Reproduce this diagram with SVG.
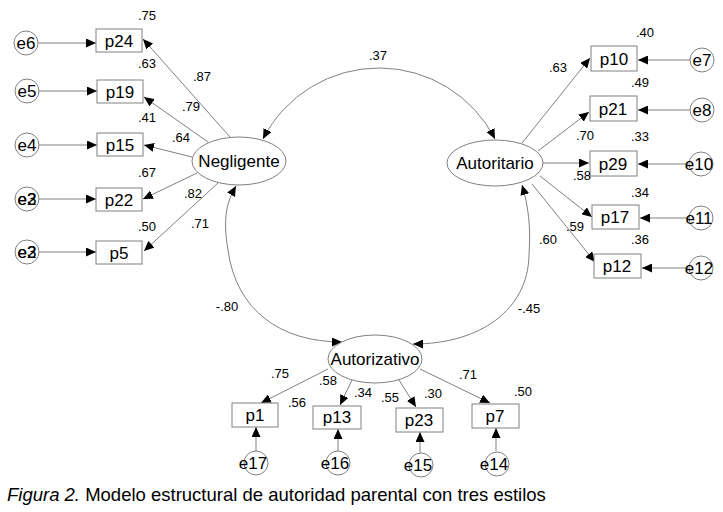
<svg xmlns="http://www.w3.org/2000/svg" width="723" height="512" viewBox="0 0 723 512">
<style>
text{font-family:"Liberation Sans",Arial,sans-serif;fill:#000}
.lab{font-size:17px;text-anchor:middle}
.num{font-size:13px;text-anchor:middle}
.box{fill:#fff;stroke:#808080;stroke-width:1}
.lat{fill:#fff;stroke:#808080;stroke-width:1}
.err{fill:#fff;stroke:#808080;stroke-width:1}
.c path,.c line{fill:none;stroke:#808080;stroke-width:1;marker-end:url(#ah)}
</style>
<defs>
<marker id="ah" markerUnits="userSpaceOnUse" markerWidth="11" markerHeight="9" refX="10" refY="4.5" orient="auto">
<path d="M0,0 L10,4.5 L0,9 z" fill="#000"/>
</marker>
</defs>
<rect width="723" height="512" fill="#fff"/>
<g id="connectors" class="c">
<path d="M380,68 A130,130 0 0 0 263,139"/>
<path d="M380,68 A130,130 0 0 1 495,139"/>
<path d="M228,250 C222,215 228,200 236,186"/>
<path d="M228,250 C236,310 280,342 342,342"/>
<path d="M529,255 C531,225 528,205 522,185"/>
<path d="M529,255 C528,310 480,344 413,344"/>
<line x1="230" y1="137" x2="143" y2="39"/>
<line x1="208" y1="142" x2="144" y2="97"/>
<line x1="192" y1="157" x2="144" y2="145"/>
<line x1="197" y1="173" x2="143" y2="199"/>
<line x1="218" y1="183" x2="144" y2="251"/>
<line x1="38" y1="43" x2="96" y2="43"/>
<line x1="39" y1="91" x2="97" y2="91"/>
<line x1="39" y1="145" x2="97" y2="145"/>
<line x1="39" y1="199" x2="96" y2="199"/>
<line x1="39" y1="252" x2="96" y2="252"/>
<line x1="522" y1="143" x2="590" y2="58"/>
<line x1="538" y1="151" x2="589" y2="112"/>
<line x1="543" y1="163" x2="589" y2="163"/>
<line x1="540" y1="176" x2="592" y2="217"/>
<line x1="532" y1="184" x2="595" y2="262"/>
<line x1="690" y1="60" x2="638" y2="60"/>
<line x1="690" y1="110" x2="638" y2="110"/>
<line x1="688" y1="164" x2="638" y2="164"/>
<line x1="688" y1="218" x2="640" y2="218"/>
<line x1="688" y1="268" x2="642" y2="268"/>
<line x1="328" y1="369" x2="261" y2="403"/>
<line x1="352" y1="380" x2="340" y2="405"/>
<line x1="399" y1="380" x2="416" y2="407"/>
<line x1="420" y1="369" x2="490" y2="403"/>
<line x1="256" y1="451" x2="256" y2="427"/>
<line x1="338" y1="451" x2="338" y2="429"/>
<line x1="420" y1="453" x2="420" y2="432"/>
<line x1="496" y1="451" x2="496" y2="428"/>
</g>
<g id="Negligente"><ellipse class="lat" cx="239" cy="161" rx="47" ry="24"/><text class="lab" x="239" y="167">Negligente</text></g>
<g id="Autoritario"><ellipse class="lat" cx="495" cy="163" rx="48" ry="23"/><text class="lab" x="495" y="169">Autoritario</text></g>
<g id="Autorizativo"><ellipse class="lat" cx="375" cy="359" rx="47" ry="24"/><text class="lab" x="375" y="365">Autorizativo</text></g>
<g id="p24"><rect class="box" x="96" y="29" width="46" height="23"/><text class="lab" x="119" y="47">p24</text></g>
<g id="p19"><rect class="box" x="97" y="80" width="46" height="23"/><text class="lab" x="120" y="98">p19</text></g>
<g id="p15"><rect class="box" x="97" y="133" width="46" height="23"/><text class="lab" x="120" y="151">p15</text></g>
<g id="p22"><rect class="box" x="96" y="188" width="46" height="23"/><text class="lab" x="119" y="206">p22</text></g>
<g id="p5"><rect class="box" x="96" y="241" width="46" height="23"/><text class="lab" x="119" y="259">p5</text></g>
<g id="p10"><rect class="box" x="591" y="46" width="46" height="25"/><text class="lab" x="614" y="65">p10</text></g>
<g id="p21"><rect class="box" x="590" y="96" width="47" height="25"/><text class="lab" x="613" y="115">p21</text></g>
<g id="p29"><rect class="box" x="590" y="151" width="47" height="25"/><text class="lab" x="613" y="170">p29</text></g>
<g id="p17"><rect class="box" x="592" y="205" width="47" height="24"/><text class="lab" x="615" y="223">p17</text></g>
<g id="p12"><rect class="box" x="594" y="254" width="47" height="24"/><text class="lab" x="617" y="272">p12</text></g>
<g id="p1"><rect class="box" x="232" y="403" width="46" height="24"/><text class="lab" x="255" y="421">p1</text></g>
<g id="p13"><rect class="box" x="313" y="406" width="48" height="23"/><text class="lab" x="337" y="423">p13</text></g>
<g id="p23"><rect class="box" x="396" y="408" width="47" height="24"/><text class="lab" x="419" y="426">p23</text></g>
<g id="p7"><rect class="box" x="472" y="404" width="47" height="24"/><text class="lab" x="495" y="422">p7</text></g>
<g id="e6"><circle class="err" cx="26" cy="43" r="12"/><text class="lab" x="26" y="49">e6</text></g>
<g id="e5"><circle class="err" cx="27" cy="91" r="12"/><text class="lab" x="27" y="97">e5</text></g>
<g id="e4"><circle class="err" cx="27" cy="145" r="12"/><text class="lab" x="27" y="151">e4</text></g>
<g id="e3"><circle class="err" cx="27" cy="199" r="12"/><text class="lab" x="27" y="205">e3</text><text class="lab" x="27" y="205">e2</text></g>
<g id="e2"><circle class="err" cx="27" cy="252" r="12"/><text class="lab" x="27" y="258">e3</text><text class="lab" x="27" y="258">e2</text></g>
<g id="e7"><circle class="err" cx="702" cy="60" r="12"/><text class="lab" x="702" y="66">e7</text></g>
<g id="e8"><circle class="err" cx="702" cy="110" r="12"/><text class="lab" x="702" y="116">e8</text></g>
<g id="e10"><circle class="err" cx="701" cy="164" r="12"/><text class="lab" x="699" y="170">e10</text></g>
<g id="e11"><circle class="err" cx="701" cy="218" r="12"/><text class="lab" x="699" y="224">e11</text></g>
<g id="e12"><circle class="err" cx="701" cy="268" r="12"/><text class="lab" x="699" y="274">e12</text></g>
<g id="e17"><circle class="err" cx="256" cy="463" r="12"/><text class="lab" x="253" y="469">e17</text></g>
<g id="e16"><circle class="err" cx="338" cy="463" r="12"/><text class="lab" x="335" y="469">e16</text></g>
<g id="e15"><circle class="err" cx="421" cy="465" r="12"/><text class="lab" x="418" y="471">e15</text></g>
<g id="e14"><circle class="err" cx="497" cy="464" r="12"/><text class="lab" x="494" y="470">e14</text></g>
<g id="labels">
<text class="num" x="378" y="60">.37</text>
<text class="num" x="147" y="20">.75</text>
<text class="num" x="147" y="68">.63</text>
<text class="num" x="202" y="81">.87</text>
<text class="num" x="191" y="111">.79</text>
<text class="num" x="147" y="122">.41</text>
<text class="num" x="181" y="142">.64</text>
<text class="num" x="147" y="177">.67</text>
<text class="num" x="193" y="198">.82</text>
<text class="num" x="147" y="231">.50</text>
<text class="num" x="200" y="228">.71</text>
<text class="num" x="645" y="37">.40</text>
<text class="num" x="558" y="72">.63</text>
<text class="num" x="640" y="87">.49</text>
<text class="num" x="585" y="140">.70</text>
<text class="num" x="640" y="141">.33</text>
<text class="num" x="582" y="180">.58</text>
<text class="num" x="640" y="197">.34</text>
<text class="num" x="575" y="231">.59</text>
<text class="num" x="548" y="244">.60</text>
<text class="num" x="640" y="244">.36</text>
<text class="num" x="227" y="311">-.80</text>
<text class="num" x="529" y="313">-.45</text>
<text class="num" x="280" y="378">.75</text>
<text class="num" x="328" y="385">.58</text>
<text class="num" x="297" y="407">.56</text>
<text class="num" x="363" y="397">.34</text>
<text class="num" x="390" y="402">.55</text>
<text class="num" x="433" y="398">.30</text>
<text class="num" x="468" y="379">.71</text>
<text class="num" x="523" y="396">.50</text>
</g>
<text x="7" y="501" style="font-size:18.5px"><tspan font-style="italic">Figura 2.</tspan> Modelo estructural de autoridad parental con tres estilos</text>
</svg>
